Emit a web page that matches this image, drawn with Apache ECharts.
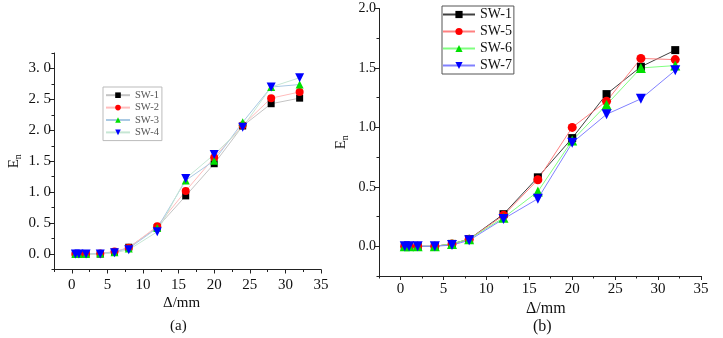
<!DOCTYPE html>
<html>
<head>
<meta charset="utf-8">
<script src="https://cdn.jsdelivr.net/npm/echarts@6/dist/echarts.min.js"></script>
<style>
  html, body { margin: 0; padding: 0; background: #fff; }
  #plot { width: 723px; height: 338px; }
</style>
</head>
<body>
<div id="plot"></div>
<script>
// 位移 (mm)
var disp = [0.5, 1, 2, 4, 6, 8, 12, 16, 20, 24, 28, 32];

// (a)
var sw1a = [0, 0, 0, 0, 0.03, 0.11, 0.43, 0.94, 1.46, 2.07, 2.43, 2.52];
var sw2a = [0, 0, 0, 0.01, 0.04, 0.10, 0.45, 1.02, 1.56, 2.08, 2.52, 2.62];
var sw3a = [0, 0, 0, 0.01, 0.03, 0.09, 0.42, 1.19, 1.51, 2.13, 2.70, 2.74];
var sw4a = [0, 0, 0, 0, 0.02, 0.07, 0.36, 1.22, 1.61, 2.05, 2.70, 2.85];

// (b)
var sw1b = [0, 0, 0, 0, 0.02, 0.06, 0.27, 0.58, 0.91, 1.28, 1.51, 1.65];
var sw5b = [0, 0, 0, 0, 0.02, 0.06, 0.26, 0.56, 1.00, 1.22, 1.58, 1.57];
var sw6b = [0, 0, 0, 0, 0.02, 0.06, 0.24, 0.46, 0.89, 1.19, 1.50, 1.52];
var sw7b = [0, 0, 0, 0, 0.01, 0.05, 0.23, 0.40, 0.87, 1.11, 1.24, 1.48];

// 刻度
var xTicks = [0, 5, 10, 15, 20, 25, 30, 35];
var xMinor = [-2.5, 2.5, 7.5, 12.5, 17.5, 22.5, 27.5, 32.5];
var yTicksA = [0, 0.5, 1, 1.5, 2, 2.5, 3];
var yMinorA = [-0.25, 0.25, 0.75, 1.25, 1.75, 2.25, 2.75, 3.25];
var yTicksB = [0, 0.5, 1, 1.5, 2];
var yMinorB = [-0.25, 0.25, 0.75, 1.25, 1.75];

var serif = '"Liberation Serif", "DejaVu Serif", serif';
var downTri = 'path://M0,0 L10,0 L5,9 Z';

function pairs(ys) {
  return disp.map(function (x, i) { return [x, ys[i]]; });
}

// 主轴 + 副刻度轴
function xAxes(grid, font, size, margin) {
  return [{
    type: 'value', gridIndex: grid, position: 'bottom', min: -2.5, max: 35,
    axisLine: { show: true, onZero: false, lineStyle: { color: '#222', width: 1 } },
    axisTick: { show: true, length: 4, customValues: xTicks, lineStyle: { color: '#222' } },
    axisLabel: { customValues: xTicks, fontFamily: font, fontSize: size, color: '#111', margin: margin },
    splitLine: { show: false }
  }, {
    type: 'value', gridIndex: grid, position: 'bottom', min: -2.5, max: 35,
    axisLine: { show: false, onZero: false },
    axisTick: { show: true, length: 2.5, customValues: xMinor, lineStyle: { color: '#222' } },
    axisLabel: { show: false },
    splitLine: { show: false }
  }];
}

function yAxes(grid, min, max, ticks, minor, font, size, fmt, gap) {
  return [{
    type: 'value', gridIndex: grid, position: 'left', min: min, max: max,
    name: 'E{s|n}', nameLocation: 'middle', nameRotate: 90, nameGap: gap,
    nameTextStyle: {
      fontFamily: serif, fontSize: 15, color: '#111',
      rich: { s: { fontFamily: serif, fontSize: 10, verticalAlign: 'bottom', padding: [8, 0, 0, 0] } }
    },
    axisLine: { show: true, onZero: false, lineStyle: { color: '#222', width: 1 } },
    axisTick: { show: true, length: 4, customValues: ticks, lineStyle: { color: '#222' } },
    axisLabel: { customValues: ticks, fontFamily: font, fontSize: size, color: '#111', margin: 3, formatter: fmt },
    splitLine: { show: false }
  }, {
    type: 'value', gridIndex: grid, position: 'left', min: min, max: max,
    axisLine: { show: false, onZero: false },
    axisTick: { show: true, length: 2.5, customValues: minor, lineStyle: { color: '#222' } },
    axisLabel: { show: false },
    splitLine: { show: false }
  }];
}

function line(name, ys, axis, lineColor, markColor, symbol, size) {
  return {
    name: name, type: 'line', data: pairs(ys),
    xAxisIndex: axis, yAxisIndex: axis,
    symbol: symbol, symbolSize: size, showSymbol: true,
    lineStyle: { color: lineColor, width: 1 },
    itemStyle: { color: markColor },
    emphasis: { disabled: true },
    animation: false
  };
}

var myChart = echarts.init(document.getElementById('plot'));

var option = {
  animation: false,
  grid: [
    { left: 54, top: 53, width: 267, height: 216.5 },
    { left: 379, top: 8.5, width: 322, height: 267.5 }
  ],
  xAxis: xAxes(0, serif, 15, 8).concat(xAxes(1, serif, 15, 6)),
  yAxis: yAxes(0, -0.25, 3.25, yTicksA, yMinorA, serif, 15, function (v) {
    return v.toFixed(1).replace('.', '. ');
  }, 31).concat(yAxes(1, -0.25, 2, yTicksB, yMinorB, serif, 14, function (v) {
    return v.toFixed(1);
  }, 29)),
  legend: [{
    data: ['a:SW-1', 'a:SW-2', 'a:SW-3', 'a:SW-4'],
    formatter: function (n) { return n.slice(2); },
    orient: 'vertical', left: 103, top: 87,
    padding: [2, 3, 2, 2], itemWidth: 24, itemHeight: 7, itemGap: 0,
    borderColor: '#bbb', borderWidth: 1,
    textStyle: { fontFamily: serif, fontSize: 10.5, color: '#555', lineHeight: 12.4 }
  }, {
    data: ['b:SW-1', 'b:SW-5', 'b:SW-6', 'b:SW-7'],
    formatter: function (n) { return n.slice(2); },
    orient: 'vertical', left: 442, top: 6,
    padding: [0, 2, 0, 0], itemWidth: 32, itemHeight: 9, itemGap: 0,
    borderColor: '#555', borderWidth: 1,
    textStyle: { fontFamily: serif, fontSize: 14, color: '#111', lineHeight: 17 }
  }],
  graphic: [
    { type: 'text', left: 163, top: 296, style: { text: 'Δ/mm', font: '15px ' + serif, fill: '#111' } },
    { type: 'text', left: 170, top: 319, style: { text: '(a)', font: '15px ' + serif, fill: '#111' } },
    { type: 'text', left: 526, top: 301, style: { text: 'Δ/mm', font: '16px ' + serif, fill: '#111' } },
    { type: 'text', left: 533, top: 319, style: { text: '(b)', font: '16px ' + serif, fill: '#111' } }
  ],
  series: [
    line('a:SW-1', sw1a, 0, '#c4c4c4', '#000', 'rect', 7),
    line('a:SW-2', sw2a, 0, '#ffbcbc', '#ff0000', 'circle', 8),
    line('a:SW-3', sw3a, 0, '#a9c9e3', '#00e000', 'triangle', 8),
    line('a:SW-4', sw4a, 0, '#c6e6d4', '#0000ff', downTri, 9),
    line('b:SW-1', sw1b, 2, '#404040', '#000', 'rect', 8),
    line('b:SW-5', sw5b, 2, '#ff8080', '#ff0000', 'circle', 9),
    line('b:SW-6', sw6b, 2, '#80ff80', '#00e000', 'triangle', 10),
    line('b:SW-7', sw7b, 2, '#8080ff', '#0000ff', downTri, 10)
  ]
};

myChart.setOption(option);
</script>
</body>
</html>
